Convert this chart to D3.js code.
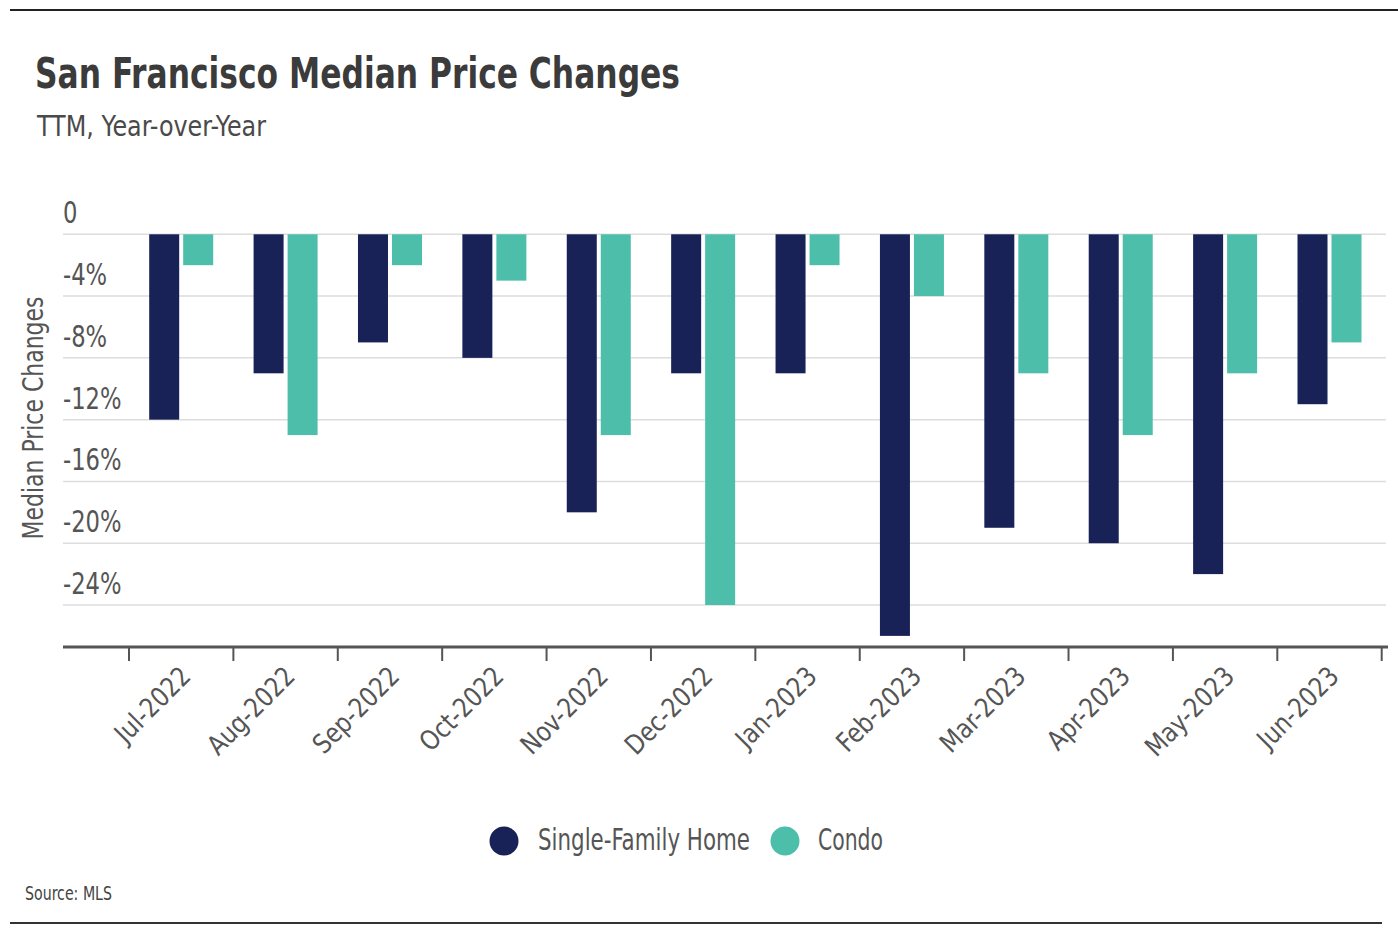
<!DOCTYPE html>
<html>
<head>
<meta charset="utf-8">
<script src="https://cdn.jsdelivr.net/npm/d3@7"></script>
<style>
  html, body { margin: 0; padding: 0; background: #fff; }
  svg { display: block; }
  .narrow { font-family: "Liberation Sans Narrow", "DejaVu Sans Condensed", "Open Sans", sans-serif; }
</style>
</head>
<body>
<svg id="chart" width="1398" height="936"></svg>
<script>
const months = ["Jul-2022","Aug-2022","Sep-2022","Oct-2022","Nov-2022","Dec-2022",
                "Jan-2023","Feb-2023","Mar-2023","Apr-2023","May-2023","Jun-2023"];
const seriesNames = ["Single-Family Home", "Condo"];
const singleFamily = [-12, -9, -7, -8, -18, -9, -9, -26, -19, -20, -22, -11];
const condo = [-2, -13, -2, -3, -13, -24, -2, -4, -9, -13, -9, -7];
const yTicks = [0, -4, -8, -12, -16, -20, -24];
const colors = ["#182256", "#4dbeaa"];

const svg = d3.select("#chart");
const W = 1398, H = 936;
const plotLeft = 63, plotRight = 1388;

function condense(sel, f) {
  sel.each(function () {
    const L = this.getComputedTextLength();
    d3.select(this).attr("textLength", L * f).attr("lengthAdjust", "spacingAndGlyphs");
  });
}

const x0 = d3.scaleBand().domain(months).range([129, 1381.7]).padding(0);
const groupW = 64;
const x1 = d3.scaleBand().domain(seriesNames).range([0, groupW]).paddingInner(0.1176);
const y = d3.scaleLinear().domain([-26.7, 0]).range([646.7, 234.3]);

// top and bottom rules
svg.append("line").attr("x1", 10).attr("x2", W).attr("y1", 10).attr("y2", 10)
  .attr("stroke", "#222").attr("stroke-width", 2);
svg.append("line").attr("x1", 10).attr("x2", 1382).attr("y1", 923).attr("y2", 923)
  .attr("stroke", "#333").attr("stroke-width", 2);

// title
svg.append("text").attr("x", 35).attr("y", 88)
  .attr("font-family", "'Liberation Sans Narrow', 'DejaVu Sans Condensed', sans-serif")
  .attr("font-weight", "bold").attr("font-size", 42).attr("fill", "#3b3b3b")
  .attr("textLength", 645).attr("lengthAdjust", "spacingAndGlyphs")
  .text("San Francisco Median Price Changes");
svg.append("text").attr("x", 37).attr("y", 136).attr("class", "narrow")
  .attr("font-size", 29).attr("fill", "#4a4a4a")
  .attr("textLength", 229).attr("lengthAdjust", "spacingAndGlyphs")
  .text("TTM, Year-over-Year");

// gridlines
svg.append("g").selectAll("line").data(yTicks).join("line")
  .attr("x1", plotLeft).attr("x2", 1386)
  .attr("y1", d => y(d)).attr("y2", d => y(d))
  .attr("stroke", "#dddddd").attr("stroke-width", 1.5);

// y tick labels
svg.append("g").selectAll("text").data(yTicks).join("text")
  .attr("class", "narrow")
  .attr("x", plotLeft).attr("y", d => y(d) - 11)
  .attr("font-size", 30).attr("fill", "#555")
  .text(d => d === 0 ? "0" : d + "%")
  .call(condense, 0.84);

// y axis title
svg.append("text").attr("class", "narrow")
  .attr("transform", "translate(43,418) rotate(-90)")
  .attr("text-anchor", "middle").attr("font-size", 28).attr("fill", "#555")
  .attr("textLength", 243).attr("lengthAdjust", "spacingAndGlyphs")
  .text("Median Price Changes");

// bars
const data = months.map((m, i) => ({ month: m, values: [singleFamily[i], condo[i]] }));
const groups = svg.append("g").selectAll("g").data(data).join("g")
  .attr("transform", d => `translate(${x0(d.month) + (x0.bandwidth() - groupW) / 2},0)`);
groups.selectAll("rect").data(d => d.values.map((v, j) => ({ key: seriesNames[j], v, j })))
  .join("rect")
  .attr("x", d => x1(d.key))
  .attr("width", x1.bandwidth())
  .attr("y", d => y(0))
  .attr("height", d => y(d.v) - y(0))
  .attr("fill", d => colors[d.j]);

// x axis
const xAxisG = svg.append("g");
xAxisG.append("line").attr("x1", plotLeft).attr("x2", plotRight)
  .attr("y1", 647).attr("y2", 647).attr("stroke", "#555").attr("stroke-width", 3);
const tickPos = months.map(m => x0(m)).concat([x0(months[months.length - 1]) + x0.bandwidth()]);
xAxisG.selectAll("line.tick").data(tickPos).join("line").attr("class", "tick")
  .attr("x1", d => d).attr("x2", d => d).attr("y1", 647).attr("y2", 661)
  .attr("stroke", "#555").attr("stroke-width", 2);
xAxisG.selectAll("text").data(months).join("text")
  .attr("class", "narrow")
  .attr("transform", d => `translate(${x0(d) + x0.bandwidth() / 2 + 11},678) rotate(-45)`)
  .attr("text-anchor", "end").attr("font-size", 27).attr("fill", "#555")
  .text(d => d)
  .call(condense, 0.94);

// legend
const legend = svg.append("g");
const legendItems = [
  { name: seriesNames[0], cx: 504, tx: 538, w: 212 },
  { name: seriesNames[1], cx: 785, tx: 818, w: 65 }
];
legend.selectAll("circle").data(legendItems).join("circle")
  .attr("cx", d => d.cx).attr("cy", 841).attr("r", 14.5)
  .attr("fill", (d, i) => colors[i]);
legend.selectAll("text").data(legendItems).join("text")
  .attr("class", "narrow")
  .attr("x", d => d.tx).attr("y", 850)
  .attr("font-size", 30).attr("fill", "#555")
  .attr("textLength", d => d.w).attr("lengthAdjust", "spacingAndGlyphs")
  .text(d => d.name);

// source
svg.append("text").attr("class", "narrow")
  .attr("x", 25).attr("y", 900).attr("font-size", 20).attr("fill", "#444")
  .attr("textLength", 87).attr("lengthAdjust", "spacingAndGlyphs")
  .text("Source:  MLS");
</script>
</body>
</html>
